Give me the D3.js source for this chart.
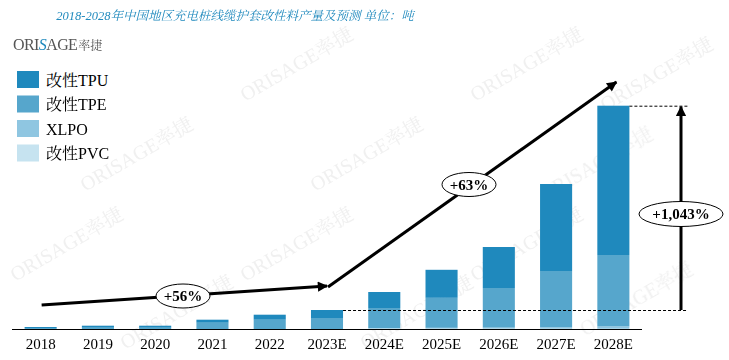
<!DOCTYPE html>
<html><head><meta charset="utf-8">
<script src="https://cdn.jsdelivr.net/npm/d3@7"></script>
<style>
html,body{margin:0;padding:0;background:#fff;}
svg{display:block;}
</style></head>
<body>
<script>
// ---- data (tons) ----
const years = ["2018","2019","2020","2021","2022","2023E","2024E","2025E","2026E","2027E","2028E"];
const seriesNames = ["改性PVC","XLPO","改性TPE","改性TPU"];
const pvc  = [0,0,0,0,0,0,40,40,40,30,30];
const xlpo = [0,0,0,0,0,0,60,80,100,150,230];
const tpe  = [100,130,130,630,930,1100,2000,3000,3960,5620,7140];
const tpu  = [100,200,200,300,500,800,1600,2800,4100,8700,14930];
const legendNames = ["改性TPU","改性TPE","XLPO","改性PVC"];
const growthLabels = ["+56%","+63%","+1,043%"];
const title = "2018-2028年中国地区充电桩线缆护套改性料产量及预测  单位：吨";

const colors = {"改性TPU":"#1f89bd","改性TPE":"#56a6cc","XLPO":"#8fc6e1","改性PVC":"#c6e3f0"};

const W=729,H=360;
const svg=d3.select("body").append("svg").attr("width",W).attr("height",H);
const serif="'Liberation Serif','Times New Roman','Noto Serif CJK SC','Noto Sans CJK SC',serif";

// watermarks (faint)
const wm = svg.append("g").attr("fill","#e4e4e4").attr("opacity",0.55)
  .style("font-family",serif).style("font-size","20px");
const wmPos=[[300,70],[530,70],[660,80],[140,160],[370,160],[600,170],[70,250],[300,250],[530,250],[180,318],[420,318],[640,305]];
wmPos.forEach(p=>{
  wm.append("text").attr("transform",`translate(${p[0]},${p[1]}) rotate(-30)`).attr("text-anchor","middle").text("ORISAGE率捷");
});

// scales
const x=d3.scaleBand().domain(years).range([12,642]).paddingInner(0.44).paddingOuter(0.22);
const y=d3.scaleLinear().domain([0,25000]).range([329,79]);

const rows=years.map((yr,i)=>({year:yr,"改性PVC":pvc[i],"XLPO":xlpo[i],"改性TPE":tpe[i],"改性TPU":tpu[i]}));
const stack=d3.stack().keys(seriesNames)(rows);

svg.append("g").selectAll("g").data(stack).join("g")
  .attr("fill",d=>colors[d.key])
  .selectAll("rect").data(d=>d).join("rect")
  .attr("x",d=>x(d.data.year)).attr("width",x.bandwidth())
  .attr("y",d=>y(d[1])).attr("height",d=>y(d[0])-y(d[1]));

// axis
const xAxis=d3.axisBottom(x).tickSize(0).tickPadding(9);
const ax=svg.append("g").attr("transform","translate(0,329)").call(xAxis);
ax.select(".domain").attr("stroke","#000").attr("d","M12,0.5H642");
ax.selectAll("text").style("font-family",serif).style("font-size","15px").attr("fill","#000");

// title
svg.append("text").attr("x",235).attr("y",20).attr("text-anchor","middle")
  .style("font-family",serif).style("font-style","italic").style("font-size","12.5px")
  .attr("fill","#1f89bd").text(title);

// logo
const logo=svg.append("text").attr("x",13).attr("y",50).style("font-family",serif).style("font-size","16px")
  .style("letter-spacing","-0.6px").attr("fill","#555");
logo.append("tspan").text("ORI");
logo.append("tspan").attr("fill","#1f89bd").style("font-style","italic").text("S");
logo.append("tspan").text("AGE");
logo.append("tspan").style("font-size","12px").style("letter-spacing","0px").attr("dx",1).text("率捷");

// legend
const lg=svg.append("g").selectAll("g").data(legendNames).join("g")
  .attr("transform",(d,i)=>`translate(17,${71+i*24.5})`);
lg.append("rect").attr("width",22).attr("height",17).attr("fill",d=>colors[d]);
lg.append("text").attr("x",29).attr("y",14.5).style("font-family",serif).style("font-size","16px").attr("fill","#000").text(d=>d);

// arrows
const defs=svg.append("defs");
defs.append("marker").attr("id","ah").attr("viewBox","0 0 10 10").attr("refX",9).attr("refY",5)
  .attr("markerWidth",4.4).attr("markerHeight",3.4).attr("orient","auto").attr("markerUnits","strokeWidth")
  .append("path").attr("d","M0,0L10,5L0,10Z").attr("fill","#000");

const cx=yr=>x(yr)+x.bandwidth()/2;
const total=i=>pvc[i]+xlpo[i]+tpe[i]+tpu[i];
const i23=years.indexOf("2023E"), i28=years.indexOf("2028E");

svg.append("line").attr("x1",cx("2018")+1).attr("y1",y(2400)).attr("x2",cx("2023E")).attr("y2",y(4300))
  .attr("stroke","#000").attr("stroke-width",3).attr("marker-end","url(#ah)");
svg.append("line").attr("x1",cx("2023E")+1).attr("y1",y(4200)).attr("x2",cx("2028E")+3).attr("y2",y(24700))
  .attr("stroke","#000").attr("stroke-width",3).attr("marker-end","url(#ah)");

// dashed reference lines
const xr=x("2028E")+x.bandwidth();
svg.append("line").attr("x1",x("2023E")+x.bandwidth()).attr("x2",688).attr("y1",y(total(i23))+0.5).attr("y2",y(total(i23))+0.5)
  .attr("stroke","#000").attr("stroke-dasharray","3,2").attr("stroke-width",1);
svg.append("line").attr("x1",xr).attr("x2",688).attr("y1",y(total(i28))+0.5).attr("y2",y(total(i28))+0.5)
  .attr("stroke","#000").attr("stroke-dasharray","3,2").attr("stroke-width",1);
svg.append("line").attr("x1",681).attr("x2",681).attr("y1",y(total(i23))).attr("y2",y(total(i28))+1)
  .attr("stroke","#000").attr("stroke-width",3).attr("marker-end","url(#ah)");

// growth ellipses
const bubbles=[
  {cx:183,cy:296,rx:27,ry:12,t:growthLabels[0]},
  {cx:469,cy:184.5,rx:27,ry:12,t:growthLabels[1]},
  {cx:681,cy:214,rx:42,ry:12.5,t:growthLabels[2]}
];
const bg=svg.append("g").selectAll("g").data(bubbles).join("g");
bg.append("ellipse").attr("cx",d=>d.cx).attr("cy",d=>d.cy).attr("rx",d=>d.rx).attr("ry",d=>d.ry)
  .attr("fill","#fff").attr("stroke","#000").attr("stroke-width",1);
bg.append("text").attr("x",d=>d.cx).attr("y",d=>d.cy+5).attr("text-anchor","middle")
  .style("font-family",serif).style("font-size","15px").style("font-weight","bold").attr("fill","#000").text(d=>d.t);
</script>
</body></html>
